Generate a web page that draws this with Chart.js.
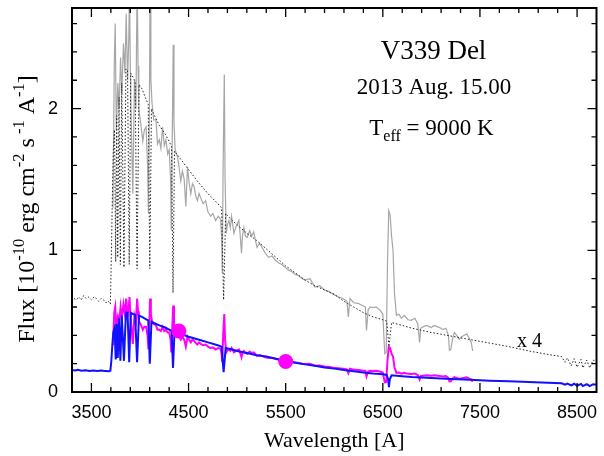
<!DOCTYPE html>
<html><head><meta charset="utf-8">
<script src="https://cdn.jsdelivr.net/npm/chart.js@4/dist/chart.umd.min.js"></script>
<style>html,body{margin:0;padding:0;background:#fff}</style>
</head><body><canvas id="c" width="604" height="456"></canvas>
<script>
// ---- data (wavelength in A, flux in 1e-10 erg cm^-2 s^-1 A^-1) ----
const xTickValues = [3500, 4500, 5500, 6500, 7500, 8500];
const yTickValues = [0, 1, 2];

// model spectrum (blue)
const modelWl = [3300,3330,3360,3400,3440,3480,3520,3560,3600,3640,3680,3695,3705,3715,3725,3738,3750,3760,3771,3784,3798,3812,3835,3855,3872,3889,3905,3930,3950,3970,3990,4020,4060,4085,4101,4118,4150,4200,4260,4300,4325,4340,4355,4400,4500,4600,4700,4800,4840,4861,4882,4950,5000,5100,5200,5300,5400,5500,5600,5700,5800,5900,6000,6100,6200,6300,6400,6500,6540,6555,6563,6572,6590,6700,6800,7000,7200,7400,7600,7800,8000,8200,8340,8375,8400,8440,8470,8500,8540,8560,8600,8630,8665,8700];
const modelFlux = [0.155,0.152,0.156,0.150,0.153,0.149,0.152,0.148,0.151,0.149,0.146,0.150,0.22,0.33,0.42,0.45,0.23,0.48,0.24,0.52,0.22,0.54,0.22,0.56,0.56,0.21,0.56,0.55,0.545,0.21,0.54,0.53,0.515,0.505,0.20,0.495,0.485,0.47,0.455,0.44,0.43,0.17,0.425,0.415,0.39,0.37,0.35,0.33,0.32,0.14,0.31,0.30,0.29,0.275,0.26,0.25,0.235,0.22,0.207,0.195,0.185,0.173,0.165,0.155,0.147,0.138,0.13,0.125,0.12,0.09,0.035,0.09,0.118,0.112,0.106,0.099,0.092,0.086,0.08,0.075,0.07,0.065,0.062,0.052,0.06,0.046,0.058,0.044,0.057,0.042,0.056,0.042,0.055,0.052];

// model spectrum x 4 (black dotted)
const model4Wl = [3300,3320,3345,3370,3395,3420,3445,3470,3500,3525,3550,3575,3600,3625,3650,3675,3695,3705,3715,3725,3738,3750,3760,3771,3784,3798,3812,3835,3855,3872,3889,3905,3930,3950,3970,3990,4020,4060,4085,4101,4118,4150,4200,4260,4300,4325,4340,4355,4400,4500,4600,4700,4800,4840,4861,4882,4950,5000,5100,5200,5300,5400,5500,5600,5700,5800,5900,6000,6100,6200,6300,6400,6500,6540,6555,6563,6572,6590,6700,6800,7000,7200,7400,7600,7800,8000,8200,8340,8375,8400,8440,8470,8500,8540,8560,8600,8630,8665,8700];
const model4Flux = [0.64,0.66,0.65,0.67,0.65,0.68,0.66,0.67,0.65,0.67,0.66,0.64,0.66,0.65,0.63,0.64,0.62,0.95,1.35,1.7,1.85,0.92,1.95,0.95,2.08,0.9,2.18,0.88,2.28,2.27,0.90,2.25,2.22,2.19,0.87,2.17,2.14,2.07,2.03,0.87,2.0,1.95,1.88,1.82,1.77,1.73,0.70,1.70,1.66,1.57,1.48,1.40,1.33,1.30,0.65,1.26,1.21,1.18,1.12,1.07,1.01,0.95,0.89,0.84,0.79,0.75,0.72,0.69,0.64,0.60,0.56,0.53,0.51,0.50,0.38,0.32,0.38,0.49,0.47,0.45,0.42,0.395,0.37,0.345,0.32,0.29,0.265,0.25,0.21,0.24,0.185,0.235,0.175,0.23,0.17,0.225,0.17,0.225,0.215];

// observed spectrum (magenta)
const obsWl = [3722,3735,3745,3756,3772,3785,3800,3813,3830,3845,3858,3872,3885,3892,3900,3909,3926,3943,3958,3971,3980,3988,4012,4029,4045,4063,4078,4087,4097,4104,4112,4124,4141,4165,4180,4199,4215,4233,4250,4267,4285,4301,4315,4322,4334,4342,4350,4362,4386,4400,4420,4437,4455,4472,4489,4505,4523,4540,4557,4575,4591,4608,4625,4650,4676,4700,4728,4750,4779,4805,4830,4840,4847,4856,4868,4876,4888,4900,4915,4930,4943,4967,4990,5018,5030,5045,5055,5069,5085,5103,5130,5150,5171,5185,5205,5230,5256,5290,5324,5360,5393,5430,5460,5495,5530,5560,5600,5633,5670,5700,5750,5800,5850,5900,5940,5990,6042,6090,6130,6145,6162,6200,6247,6290,6320,6332,6349,6370,6400,6430,6469,6500,6520,6535,6548,6561,6575,6590,6605,6620,6640,6665,6691,6720,6760,6793,6830,6860,6879,6890,6913,6950,6998,7030,7066,7100,7117,7150,7175,7186,7200,7220,7237,7260,7288,7310,7339,7365,7390,7410,7425];
const obsFlux = [0.33,0.56,0.60,0.46,0.53,0.49,0.60,0.52,0.62,0.55,0.66,0.54,0.60,0.67,0.57,0.48,0.34,0.54,0.50,0.66,0.57,0.50,0.47,0.44,0.46,0.46,0.40,0.30,0.50,0.66,0.55,0.50,0.48,0.47,0.44,0.44,0.43,0.46,0.43,0.44,0.42,0.42,0.37,0.28,0.48,0.61,0.48,0.43,0.41,0.40,0.37,0.39,0.37,0.32,0.39,0.37,0.35,0.37,0.36,0.345,0.335,0.35,0.34,0.33,0.335,0.32,0.31,0.315,0.30,0.31,0.305,0.27,0.21,0.40,0.55,0.37,0.28,0.295,0.30,0.29,0.31,0.28,0.29,0.30,0.28,0.245,0.275,0.29,0.275,0.27,0.285,0.275,0.28,0.27,0.255,0.26,0.255,0.245,0.24,0.24,0.235,0.228,0.225,0.22,0.215,0.212,0.208,0.205,0.20,0.198,0.20,0.186,0.187,0.18,0.178,0.172,0.168,0.165,0.16,0.133,0.165,0.158,0.156,0.152,0.15,0.11,0.145,0.15,0.149,0.15,0.145,0.138,0.068,0.07,0.22,0.32,0.31,0.27,0.25,0.175,0.135,0.138,0.13,0.135,0.128,0.127,0.13,0.12,0.088,0.112,0.115,0.118,0.114,0.118,0.115,0.112,0.11,0.112,0.10,0.074,0.075,0.095,0.105,0.10,0.092,0.098,0.10,0.103,0.095,0.088,0.073];

// observed spectrum x 4 (grey)
const obs4Wl = [3722,3735,3745,3756,3772,3785,3800,3813,3830,3845,3858,3872,3885,3892,3900,3909,3926,3943,3958,3971,3980,3988,4012,4029,4045,4063,4078,4087,4097,4104,4112,4124,4141,4165,4180,4199,4215,4233,4250,4267,4285,4301,4315,4322,4334,4342,4350,4362,4386,4400,4420,4437,4455,4472,4489,4505,4523,4540,4557,4575,4591,4608,4625,4650,4676,4700,4728,4750,4779,4805,4830,4840,4847,4856,4868,4876,4888,4900,4915,4930,4943,4967,4990,5018,5030,5045,5055,5069,5085,5103,5130,5150,5171,5185,5205,5230,5256,5290,5324,5360,5393,5430,5460,5495,5530,5560,5600,5633,5670,5700,5750,5800,5850,5900,5940,5990,6042,6090,6130,6145,6162,6200,6247,6290,6320,6332,6349,6370,6400,6430,6469,6500,6520,6535,6548,6561,6575,6590,6605,6620,6640,6665,6691,6720,6760,6793,6830,6860,6879,6890,6913,6950,6998,7030,7066,7100,7117,7150,7175,7186,7200,7220,7237,7260,7288,7310,7339,7365,7390,7410,7425];
const obs4Flux = [1.30,2.30,2.60,1.85,2.18,2.00,2.36,2.11,2.46,2.25,2.67,2.20,2.50,2.90,2.30,1.94,1.40,2.20,2.00,2.90,2.30,2.00,1.87,1.77,1.85,1.87,1.60,1.26,2.00,2.90,2.20,2.04,1.92,1.92,1.75,1.78,1.72,1.87,1.74,1.78,1.68,1.71,1.50,1.14,1.90,2.45,1.90,1.71,1.66,1.60,1.49,1.56,1.50,1.31,1.59,1.48,1.40,1.47,1.45,1.38,1.35,1.40,1.37,1.33,1.35,1.27,1.24,1.26,1.21,1.24,1.22,1.10,0.84,1.60,2.24,1.50,1.12,1.18,1.21,1.16,1.24,1.12,1.17,1.21,1.12,0.98,1.10,1.16,1.10,1.09,1.14,1.10,1.13,1.08,1.02,1.05,1.02,0.98,0.95,0.96,0.93,0.91,0.90,0.88,0.86,0.85,0.83,0.82,0.80,0.79,0.80,0.74,0.75,0.72,0.71,0.69,0.67,0.66,0.64,0.53,0.66,0.63,0.625,0.61,0.60,0.435,0.58,0.60,0.595,0.60,0.58,0.55,0.27,0.28,0.90,1.28,1.25,1.10,1.00,0.70,0.54,0.55,0.52,0.54,0.51,0.506,0.52,0.48,0.35,0.45,0.46,0.47,0.455,0.47,0.46,0.45,0.44,0.45,0.40,0.294,0.30,0.38,0.42,0.40,0.37,0.39,0.40,0.41,0.38,0.35,0.29];

// photometric points (magenta dots)
const photWl = [4400, 5500];
const photFlux = [0.43, 0.215];

const pts = (xs, ys) => xs.map((v, i) => ({x: v, y: ys[i]}));

const decor = {
  id: 'decor',
  afterDatasetsDraw(chart) {
    const {ctx, chartArea: a, scales: {x, y}} = chart;
    ctx.save();
    ctx.strokeStyle = '#000';
    ctx.lineWidth = 1.3;
    ctx.beginPath();
    const xt = (v, len) => { const p = x.getPixelForValue(v);
      ctx.moveTo(p, a.bottom); ctx.lineTo(p, a.bottom - len);
      ctx.moveTo(p, a.top); ctx.lineTo(p, a.top + len); };
    const yt = (v, len) => { const p = y.getPixelForValue(v);
      ctx.moveTo(a.left, p); ctx.lineTo(a.left + len, p);
      ctx.moveTo(a.right, p); ctx.lineTo(a.right - len, p); };
    for (let v = 3700; v < 8700; v += 200) xt(v, xTickValues.includes(v) ? 9 : 5);
    xTickValues.forEach(v => xt(v, 9));
    for (let k = 1; k <= 13; k++) { const v = k / 5; yt(v, (k % 5 === 0) ? 9 : 5); }
    ctx.stroke();
    ctx.lineWidth = 2;
    ctx.strokeRect(a.left, a.top, a.right - a.left, a.bottom - a.top);

    ctx.fillStyle = '#000';
    const serif = '"Liberation Serif", "Times New Roman", serif';
    const rich = (segs, cx, cy) => {
      let w = 0;
      segs.forEach(s => { ctx.font = s[1] + 'px ' + serif; w += ctx.measureText(s[0]).width; });
      let px = cx - w / 2;
      segs.forEach(s => { ctx.font = s[1] + 'px ' + serif; ctx.fillText(s[0], px, cy + s[2]); px += ctx.measureText(s[0]).width; });
    };
    ctx.textAlign = 'left';
    ctx.textBaseline = 'alphabetic';
    rich([['V339 Del', 27, 0]], 433.5, 59);
    rich([['2013 Aug. 15.00', 23, 0]], 434, 94);
    rich([['T', 23, 0], ['eff', 16, 6], [' = 9000 K', 23, 0]], 431.5, 135);
    ctx.font = '20px ' + serif;
    ctx.fillText('x 4', 517, 347);
    rich([['Wavelength [A]', 22, 0]], (a.left + a.right) / 2, 447);
    ctx.save();
    ctx.translate(34, 209);
    ctx.rotate(-Math.PI / 2);
    rich([['Flux [10', 24, 0], ['-10', 16.5, -10], [' erg cm', 24, 0], ['-2', 16.5, -10], [' s', 24, 0], [' -1', 16.5, -10], [' A', 24, 0], ['-1', 16.5, -10], [']', 24, 0]], 0, 0);
    ctx.restore();
    ctx.restore();
  }
};

new Chart(document.getElementById('c'), {
  type: 'line',
  data: {
    datasets: [
      {data: pts(photWl, photFlux), showLine: false, pointRadius: 7.5, pointBackgroundColor: '#ff00ff', pointBorderWidth: 0, order: 0},
      {data: pts(modelWl, modelFlux), borderColor: '#1010ff', borderWidth: 2, pointRadius: 0, order: 1},
      {data: pts(obsWl, obsFlux), borderColor: '#ff00ff', borderWidth: 2, pointRadius: 0, order: 2},
      {data: pts(model4Wl, model4Flux), borderColor: '#222', borderWidth: 1, borderDash: [1.5, 2], pointRadius: 0, order: 3},
      {data: pts(obs4Wl, obs4Flux), borderColor: '#a6a6a6', borderWidth: 1.2, pointRadius: 0, order: 4}
    ]
  },
  options: {
    responsive: false, animation: false,
    layout: {padding: {top: 8, right: 4, left: 0, bottom: 0}},
    plugins: {legend: {display: false}, tooltip: {enabled: false}},
    elements: {line: {tension: 0}},
    datasets: {line: {clip: 0}},
    scales: {
      x: {type: 'linear', min: 3300, max: 8700,
        grid: {display: false, drawTicks: false}, border: {display: false},
        afterBuildTicks: s => { s.ticks = xTickValues.map(v => ({value: v})); },
        afterFit: s => { s.height = 64; s.paddingLeft = 0; s.paddingRight = 0; },
        ticks: {font: {family: 'Liberation Sans', size: 18}, color: '#000', padding: 10, maxRotation: 0, autoSkip: false, callback: v => String(v)}},
      y: {type: 'linear', min: 0, max: 2.71,
        grid: {display: false, drawTicks: false}, border: {display: false},
        afterBuildTicks: s => { s.ticks = yTickValues.map(v => ({value: v})); },
        afterFit: s => { s.width = 72; s.paddingTop = 0; s.paddingBottom = 0; },
        ticks: {font: {family: 'Liberation Sans', size: 18}, color: '#000', padding: 14, callback: v => String(v)}}
    }
  },
  plugins: [decor]
});
</script></body></html>
